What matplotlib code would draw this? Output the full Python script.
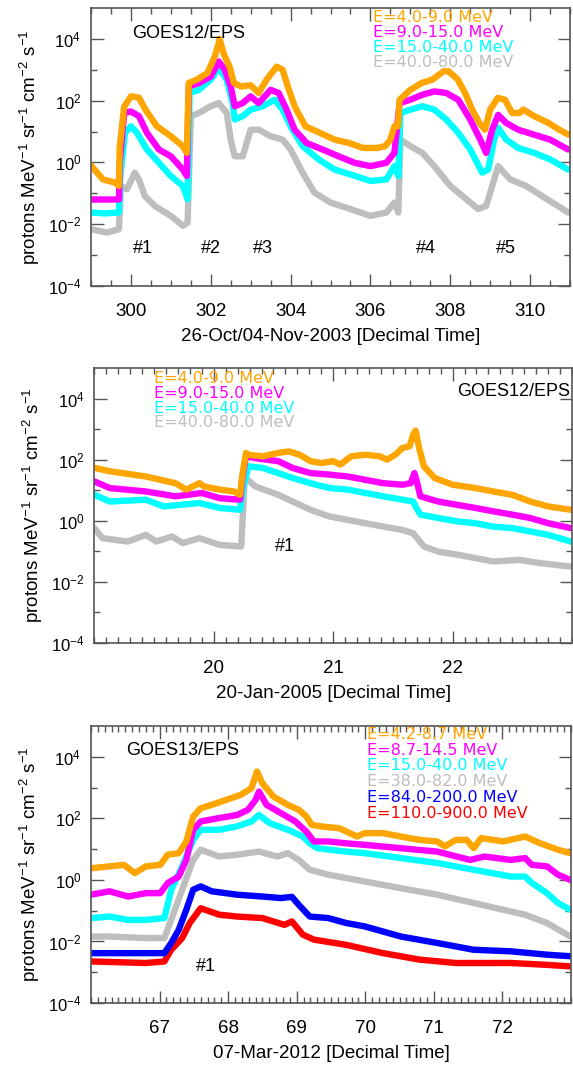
import numpy as np
import matplotlib
matplotlib.use("Agg")
import matplotlib.pyplot as plt
from matplotlib.ticker import MultipleLocator, FixedLocator, NullFormatter

plt.rcParams['font.family'] = ['Liberation Sans', 'DejaVu Sans']
plt.rcParams['mathtext.fontset'] = 'custom'
plt.rcParams['mathtext.rm'] = 'Liberation Sans'
plt.rcParams['mathtext.it'] = 'Liberation Sans:italic'
plt.rcParams['mathtext.bf'] = 'Liberation Sans:bold'

# ---------------- data (log10 of flux) ----------------
# panel 1 : 26-Oct/04-Nov-2003, GOES12/EPS
p1_t_or = [299.0, 299.3, 299.6, 299.7, 299.72, 299.83, 300.0, 300.2, 300.37, 300.65, 301.0, 301.3, 301.4,
           301.45, 301.65, 301.92, 302.1, 302.2, 302.22, 302.33, 302.47, 302.58, 302.76, 303.0, 303.2, 303.4,
           303.65, 303.8, 303.93, 304.1, 304.37, 304.73, 305.1, 305.46, 305.82, 306.18, 306.37, 306.5, 306.6,
           306.69, 306.73, 307.0, 307.28, 307.55, 307.83, 307.96, 308.19, 308.37, 308.55, 308.73, 308.87,
           309.0, 309.19, 309.37, 309.55, 309.73, 309.83, 310.1, 310.46, 310.73, 310.96]
p1_lg_or = [-0.1, -0.55, -0.65, -0.76, 0.5, 1.8, 2.14, 2.1, 1.7, 1.17, 0.85, 0.53, 0.31,
            2.57, 2.68, 2.9, 3.43, 3.86, 4.0, 3.5, 3.1, 2.57, 2.46, 2.5, 2.25, 2.68,
            3.1, 3.0, 2.46, 1.82, 1.17, 0.96, 0.74, 0.63, 0.47, 0.47, 0.53, 0.74, 1.17,
            1.17, 2.03, 2.35, 2.57, 2.68, 2.95, 2.95, 2.68, 2.25, 1.71, 1.28, 1.06,
            1.71, 2.09, 2.03, 1.6, 1.6, 1.71, 1.5, 1.28, 1.06, 0.9]
p1_t_mg = [299.0, 299.35, 299.7, 299.72, 299.83, 300.0, 300.2, 300.4, 300.7, 301.0, 301.3, 301.4,
           301.45, 301.7, 302.0, 302.2, 302.35, 302.5, 302.6, 302.8, 303.0, 303.2, 303.5, 303.7, 303.9,
           304.1, 304.4, 304.8, 305.2, 305.6, 306.0, 306.4, 306.6, 306.73, 307.0, 307.3, 307.6, 307.9,
           308.2, 308.5, 308.75, 308.9, 309.05, 309.2, 309.4, 309.7, 310.1, 310.5, 310.95]
p1_lg_mg = [-1.2, -1.2, -1.2, 0.0, 1.6, 1.65, 1.5, 0.96, 0.42, 0.2, -0.23, -0.44,
            2.46, 2.57, 2.78, 3.27, 3.0, 2.46, 1.82, 1.92, 2.14, 1.92, 2.35, 2.25, 1.71,
            1.06, 0.63, 0.42, 0.2, -0.01, -0.12, -0.01, 0.31, 1.92, 2.03, 2.19, 2.3, 2.25,
            2.03, 1.39, 0.74, 0.31, 1.06, 1.54, 1.28, 1.06, 0.9, 0.74, 0.42]
p1_t_cy = [299.0, 299.35, 299.7, 299.73, 299.85, 300.0, 300.15, 300.4, 300.7, 301.0, 301.3, 301.42,
           301.47, 301.7, 302.0, 302.2, 302.4, 302.55, 302.6, 302.8, 303.0, 303.3, 303.6, 303.8, 304.0,
           304.3, 304.7, 305.1, 305.5, 306.0, 306.4, 306.6, 306.7, 306.75, 307.0, 307.3, 307.6, 307.9,
           308.2, 308.5, 308.8, 308.95, 309.1, 309.2, 309.4, 309.7, 310.1, 310.5, 310.95]
p1_lg_cy = [-1.62, -1.65, -1.62, -0.5, 0.96, 1.17, 0.96, 0.42, -0.01, -0.44, -0.76, -1.19,
            2.25, 2.35, 2.68, 3.05, 2.68, 1.92, 1.39, 1.5, 1.71, 1.82, 2.03, 1.71, 1.17,
            0.53, 0.1, -0.23, -0.39, -0.6, -0.55, -0.12, -0.44, 1.6, 1.71, 1.82, 1.71, 1.39,
            0.96, 0.42, -0.33, -0.23, 0.74, 1.12, 0.74, 0.47, 0.31, 0.1, -0.23]
p1_t_gy = [299.0, 299.4, 299.7, 299.75, 299.9, 300.1, 300.2, 300.35, 300.6, 301.0, 301.3, 301.42,
           301.5, 301.7, 302.0, 302.2, 302.4, 302.5, 302.6, 302.8, 302.9, 303.0, 303.2, 303.5, 303.8,
           304.0, 304.3, 304.6, 305.0, 305.5, 306.0, 306.4, 306.6, 306.7, 306.75, 307.0, 307.3, 307.6,
           308.0, 308.4, 308.7, 308.9, 309.1, 309.2, 309.5, 309.9, 310.3, 310.7, 310.95]
p1_lg_gy = [-2.16, -2.27, -2.16, -0.76, -0.87, -0.33, -0.55, -1.09, -1.41, -1.73, -2.05, -1.95,
            1.49, 1.6, 1.82, 1.92, 1.6, 0.74, 0.2, 0.2, 0.63, 1.06, 1.06, 0.85, 0.74,
            0.42, -0.33, -0.98, -1.3, -1.51, -1.73, -1.62, -1.3, -1.62, 0.74, 0.53, 0.31, -0.12,
            -0.76, -1.19, -1.51, -1.41, -0.55, -0.12, -0.55, -0.76, -1.09, -1.41, -1.62]
p1_events = ['#1', '#2', '#3', '#4', '#5']
p1_event_t = [300.3, 302.0, 303.3, 307.4, 309.4]
p1_xticks = [300, 302, 304, 306, 308, 310]

# panel 2 : 20-Jan-2005, GOES12/EPS
p2_t_or = [19.0, 19.13, 19.43, 19.68, 19.77, 19.88, 19.92, 20.05, 20.17, 20.22, 20.24, 20.27, 20.29, 20.41,
           20.54, 20.63, 20.72, 20.81, 20.9, 21.0, 21.06, 21.15, 21.27, 21.39, 21.45, 21.52, 21.58, 21.64,
           21.67, 21.69, 21.72, 21.76, 21.85, 22.0, 22.19, 22.34, 22.5, 22.65, 22.8, 22.99]
p2_lg_or = [1.73, 1.62, 1.45, 1.23, 1.02, 1.23, 1.12, 1.02, 0.96, 0.85, 1.5, 2.22, 2.16, 2.11,
            2.22, 2.27, 2.16, 1.95, 1.89, 1.95, 1.84, 2.11, 2.16, 2.11, 2.0, 2.16, 2.38, 2.44,
            2.82, 2.95, 2.38, 1.78, 1.4, 1.18, 1.07, 0.96, 0.85, 0.63, 0.47, 0.36]
p2_t_mg = [19.0, 19.13, 19.43, 19.68, 19.9, 20.05, 20.22, 20.24, 20.27, 20.35, 20.54, 20.66, 20.81,
           20.97, 21.12, 21.27, 21.42, 21.58, 21.65, 21.68, 21.7, 21.73, 21.88, 22.04, 22.19, 22.34,
           22.5, 22.65, 22.8, 22.99]
p2_lg_mg = [1.29, 1.07, 0.96, 0.8, 0.91, 0.74, 0.69, 1.4, 2.11, 2.05, 1.95, 1.73, 1.56,
            1.51, 1.45, 1.34, 1.23, 1.18, 1.23, 1.56, 1.29, 0.8, 0.63, 0.52, 0.42, 0.31,
            0.2, 0.09, -0.08, -0.24]
p2_t_cy = [19.0, 19.13, 19.43, 19.58, 19.88, 20.05, 20.22, 20.24, 20.29, 20.41, 20.54, 20.66, 20.81,
           20.97, 21.12, 21.27, 21.42, 21.58, 21.67, 21.69, 21.73, 21.88, 22.04, 22.19, 22.34, 22.5,
           22.65, 22.8, 22.99]
p2_lg_cy = [0.85, 0.63, 0.69, 0.47, 0.58, 0.42, 0.36, 1.0, 1.78, 1.73, 1.56, 1.4, 1.23,
            1.07, 1.02, 0.91, 0.8, 0.69, 0.63, 0.47, 0.2, 0.09, -0.02, -0.08, -0.19, -0.24,
            -0.35, -0.46, -0.68]
p2_t_gy = [19.0, 19.07, 19.28, 19.43, 19.52, 19.65, 19.74, 19.88, 20.05, 20.23, 20.26, 20.35, 20.54,
           20.66, 20.81, 20.97, 21.12, 21.27, 21.42, 21.58, 21.67, 21.76, 21.88, 22.04, 22.19, 22.34,
           22.56, 22.74, 22.99]
p2_lg_gy = [-0.24, -0.57, -0.68, -0.46, -0.68, -0.51, -0.73, -0.57, -0.79, -0.84, 1.42, 1.12, 0.85,
            0.63, 0.36, 0.14, 0.03, -0.08, -0.19, -0.3, -0.41, -0.84, -1.01, -1.11, -1.22, -1.33,
            -1.28, -1.39, -1.5]
p2_event_t = [20.6]
p2_xticks = [20, 21, 22]

# panel 3 : 07-Mar-2012, GOES13/EPS
p3_t_or = [66.0, 66.27, 66.48, 66.64, 66.8, 67.01, 67.12, 67.28, 67.39, 67.49, 67.6, 67.76, 67.97, 68.18,
           68.34, 68.42, 68.5, 68.66, 68.87, 69.03, 69.14, 69.22, 69.35, 69.62, 69.88, 69.99, 70.26, 70.52,
           70.79, 71.05, 71.16, 71.32, 71.48, 71.58, 71.69, 72.01, 72.33, 72.54, 72.81, 72.99]
p3_lg_or = [0.38, 0.44, 0.49, 0.22, 0.44, 0.49, 0.82, 0.87, 1.25, 2.06, 2.33, 2.44, 2.6, 2.76,
            2.98, 3.52, 3.14, 2.71, 2.44, 2.28, 2.06, 1.79, 1.74, 1.68, 1.41, 1.52, 1.52, 1.41,
            1.3, 1.25, 1.09, 1.3, 1.3, 1.03, 1.36, 1.25, 1.41, 1.2, 0.98, 0.87]
p3_t_mg = [66.0, 66.27, 66.54, 66.8, 67.01, 67.12, 67.28, 67.39, 67.49, 67.6, 67.87, 68.13, 68.29,
           68.4, 68.45, 68.56, 68.77, 68.98, 69.14, 69.25, 69.46, 69.72, 69.99, 70.52, 71.05, 71.53,
           71.74, 72.12, 72.33, 72.43, 72.65, 72.81, 72.99]
p3_lg_mg = [-0.48, -0.37, -0.54, -0.43, -0.43, -0.1, 0.11, 0.65, 1.63, 1.9, 2.01, 2.11, 2.28,
            2.6, 2.87, 2.44, 2.17, 1.9, 1.57, 1.25, 1.25, 1.19, 1.14, 1.03, 0.92, 0.65,
            0.76, 0.65, 0.71, 0.49, 0.44, 0.17, 0.0]
p3_t_cy = [66.0, 66.27, 66.54, 66.8, 67.07, 67.17, 67.33, 67.49, 67.6, 67.87, 68.13, 68.34, 68.45,
           68.61, 68.87, 69.09, 69.19, 69.3, 69.72, 69.99, 70.52, 71.05, 71.58, 72.12, 72.33, 72.43,
           72.65, 72.81, 72.99]
p3_lg_cy = [-1.24, -1.19, -1.3, -1.3, -1.24, -0.32, 0.44, 1.3, 1.63, 1.63, 1.74, 1.9, 2.11,
            1.84, 1.63, 1.41, 1.19, 1.03, 0.92, 0.87, 0.71, 0.55, 0.33, 0.11, 0.11, -0.1,
            -0.43, -0.75, -0.97]
p3_t_gy = [66.0, 66.27, 66.8, 67.07, 67.17, 67.33, 67.49, 67.6, 67.87, 68.13, 68.45, 68.72, 68.87,
           69.03, 69.19, 69.46, 69.99, 70.52, 71.05, 71.58, 72.01, 72.33, 72.65, 72.99]
p3_lg_gy = [-1.84, -1.84, -1.89, -1.89, -1.29, -0.32, 0.65, 0.98, 0.76, 0.82, 0.92, 0.76, 0.87,
            0.65, 0.33, 0.17, -0.05, -0.27, -0.48, -0.75, -0.97, -1.13, -1.4, -1.84]
p3_t_bl = [66.0, 66.27, 66.8, 67.07, 67.17, 67.28, 67.39, 67.49, 67.6, 67.76, 68.13, 68.5, 68.77,
           68.93, 69.03, 69.19, 69.46, 69.72, 69.99, 70.52, 71.05, 71.58, 72.12, 72.65, 72.99]
p3_lg_bl = [-2.38, -2.38, -2.38, -2.38, -2.05, -1.62, -0.97, -0.32, -0.21, -0.37, -0.48, -0.54, -0.59,
            -0.55, -0.81, -1.19, -1.24, -1.4, -1.51, -1.84, -2.05, -2.27, -2.32, -2.43, -2.48]
p3_t_rd = [66.0, 66.8, 67.07, 67.17, 67.33, 67.44, 67.6, 67.87, 68.13, 68.5, 68.82, 68.93, 69.09,
           69.25, 69.72, 70.26, 70.79, 71.32, 72.12, 72.65, 72.99]
p3_lg_rd = [-2.65, -2.7, -2.65, -2.27, -1.89, -1.4, -0.92, -1.13, -1.19, -1.24, -1.46, -1.35, -1.78,
            -1.94, -2.11, -2.38, -2.59, -2.7, -2.7, -2.76, -2.81]
p3_event_t = [67.68]
p3_xticks = [67, 68, 69, 70, 71, 72]

labels_2003 = ['E=4.0-9.0 MeV', 'E=9.0-15.0 MeV', 'E=15.0-40.0 MeV', 'E=40.0-80.0 MeV']
labels_2012 = ['E=4.2-8.7 MeV', 'E=8.7-14.5 MeV', 'E=15.0-40.0 MeV', 'E=38.0-82.0 MeV',
               'E=84.0-200.0 MeV', 'E=110.0-900.0 MeV']
colors = ['#FFA500', '#FF00FF', '#00FFFF', '#BEBEBE', '#0000FF', '#FF0000']

yticks = [1e-4, 1e-2, 1e0, 1e2, 1e4]
yticklabels = ['$10^{-4}$', '$10^{-2}$', '$10^{0}$', '$10^{2}$', '$10^{4}$']
ylab = 'protons MeV$^{-1}$ sr$^{-1}$ cm$^{-2}$ s$^{-1}$'

fig = plt.figure(figsize=(5.73, 10.66), dpi=100)
ax1 = fig.add_axes([0.1588, 0.7317, 0.8360, 0.2608])
ax2 = fig.add_axes([0.1646, 0.3968, 0.8337, 0.2580])
ax3 = fig.add_axes([0.1588, 0.0591, 0.8377, 0.2598])


def style(ax, xlim, xticks, minor, xlabel):
    ax.set_yscale('log')
    ax.set_ylim(1e-4, 1e5)
    ax.set_xlim(*xlim)
    ax.set_yticks(yticks)
    ax.set_yticklabels(yticklabels)
    ax.yaxis.set_minor_locator(FixedLocator([1e-3, 1e-1, 1e1, 1e3]))
    ax.yaxis.set_minor_formatter(NullFormatter())
    ax.set_xticks(xticks)
    ax.xaxis.set_minor_locator(MultipleLocator(minor))
    ax.tick_params(which='both', direction='in', top=True, right=True, color='#555555')
    ax.tick_params(which='major', length=9, width=1)
    ax.tick_params(which='minor', length=4.5, width=1)
    ax.tick_params(axis='x', labelsize=13.5, pad=12)
    ax.tick_params(axis='y', labelsize=12, pad=7)
    for s in ax.spines.values():
        s.set_color('#555555')
        s.set_linewidth(1.2)
    ax.set_xlabel(xlabel, fontsize=13.5, labelpad=6)
    ax.set_ylabel(ylab, fontsize=13.5, labelpad=4)


def curves(ax, ts, lgs, cols):
    for t, lg, c in zip(ts, lgs, cols):
        ax.plot(t, 10 ** np.array(lg), color=c, lw=4.6, solid_capstyle='round',
                solid_joinstyle='round')


def legend(ax, labels, x, y0, dy):
    for i, (lab, c) in enumerate(zip(labels, colors)):
        ax.text(x, y0 - i * dy, lab, color=c, transform=ax.transAxes, fontsize=11.5,
                family='DejaVu Sans', va='center', ha='left')


# panel 1
curves(ax1, [p1_t_gy, p1_t_cy, p1_t_mg, p1_t_or], [p1_lg_gy, p1_lg_cy, p1_lg_mg, p1_lg_or],
       colors[3::-1])
style(ax1, (299, 311), p1_xticks, 0.5, '26-Oct/04-Nov-2003 [Decimal Time]')
legend(ax1, labels_2003, 0.589, 0.965, 0.054)
ax1.text(0.085, 0.91, 'GOES12/EPS', transform=ax1.transAxes, fontsize=13, va='center')
for lab, t in zip(p1_events, p1_event_t):
    ax1.text(t, 10 ** -2.8, lab, fontsize=13, ha='center', va='center')

# panel 2
curves(ax2, [p2_t_gy, p2_t_cy, p2_t_mg, p2_t_or], [p2_lg_gy, p2_lg_cy, p2_lg_mg, p2_lg_or],
       colors[3::-1])
style(ax2, (19, 23), p2_xticks, 0.1, '20-Jan-2005 [Decimal Time]')
legend(ax2, labels_2003, 0.124, 0.962, 0.054)
ax2.text(0.996, 0.913, 'GOES12/EPS', transform=ax2.transAxes, fontsize=13, va='center', ha='right')
ax2.text(p2_event_t[0], 10 ** -0.85, '#1', fontsize=13, ha='center', va='center')

# panel 3
curves(ax3, [p3_t_rd, p3_t_bl, p3_t_gy, p3_t_cy, p3_t_mg, p3_t_or],
       [p3_lg_rd, p3_lg_bl, p3_lg_gy, p3_lg_cy, p3_lg_mg, p3_lg_or], colors[::-1])
style(ax3, (66, 73), p3_xticks, 0.1, '07-Mar-2012 [Decimal Time]')
legend(ax3, labels_2012, 0.574, 0.97, 0.057)
ax3.text(0.073, 0.91, 'GOES13/EPS', transform=ax3.transAxes, fontsize=13, va='center')
ax3.text(p3_event_t[0], 10 ** -2.81, '#1', fontsize=13, ha='center', va='center')

fig.savefig('out.png', dpi=100)
